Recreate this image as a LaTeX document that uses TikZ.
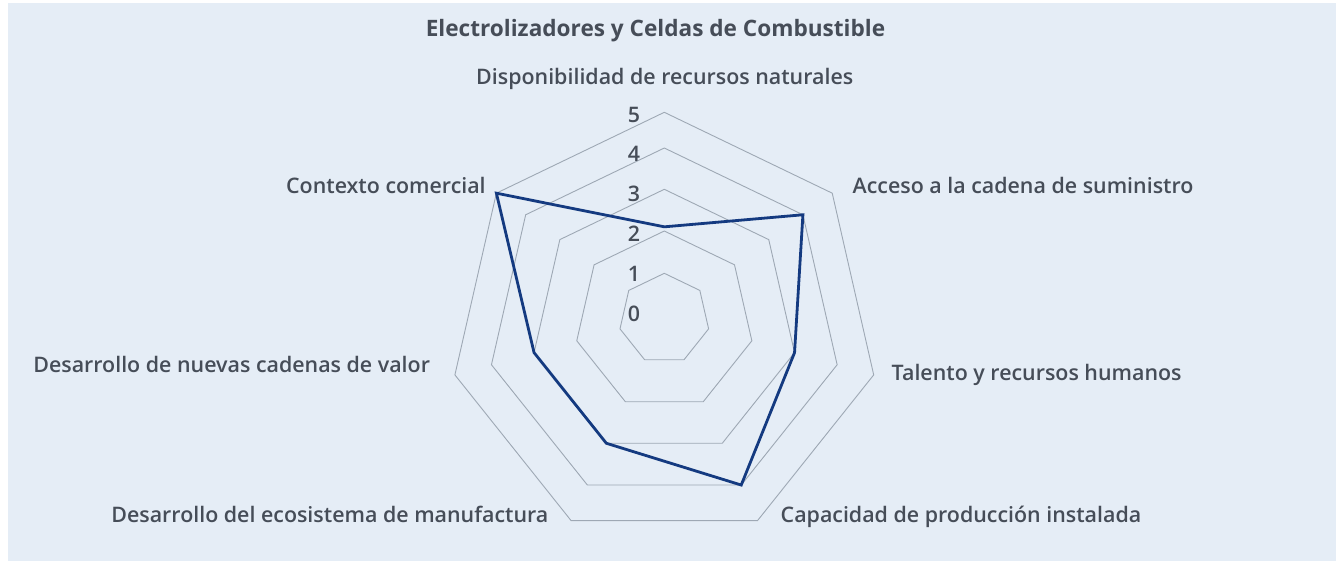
\documentclass[tikz,border=0pt]{standalone}
\usepackage{fontspec}
\setmainfont{Open Sans}
\IfFontExistsTF{Open Sans Semibold}{\newfontfamily\semifont{Open Sans Semibold}}{%
  \IfFontExistsTF{OpenSans-Semibold.otf}{\newfontfamily\semifont{OpenSans-Semibold.otf}}{%
    \IfFontExistsTF{OpenSans-SemiBold.ttf}{\newfontfamily\semifont{OpenSans-SemiBold.ttf}}{%
      \IfFontExistsTF{OpenSans-Semibold.ttf}{\newfontfamily\semifont{OpenSans-Semibold.ttf}}{%
        \newfontfamily\semifont{Open Sans}[FakeBold=2.5]}}}}
\usetikzlibrary{calc,positioning}
\definecolor{chartbg}{RGB}{229,237,246}
\definecolor{gridline}{RGB}{158,168,180}
\definecolor{seriesline}{RGB}{20,58,128}
\definecolor{labeltext}{RGB}{70,77,88}
\newcommand{\lblfont}{\semifont\fontsize{21.4}{25}\selectfont}
\newcommand{\ttlfont}{\fontsize{22.6}{26}\selectfont\bfseries}
\tikzstyle{ring}=[
  draw=gridline,
  line width=0.9pt,
  line join=miter,
]
\tikzstyle{series}=[
  draw=seriesline,
  line width=2.8pt,
  line join=miter,
]
\tikzstyle{catlabel}=[
  text=labeltext,
  font=\lblfont,
  inner sep=0pt,
  outer sep=0pt,
]
\tikzstyle{ticklabel}=[
  catlabel,
  anchor=base east,
]
\tikzstyle{charttitle}=[
  catlabel,
  font=\ttlfont,
  anchor=base,
]
\tikzset{
  x=1pt,
  y=-1pt,
}

\begin{document}
\begin{tikzpicture}
  \useasboundingbox (0,0) rectangle (1336,560);
  \fill[chartbg] (8,3) rectangle (1340,564);
  % rings: value/radius/centre y
  \foreach \v/\r/\cy in {1/45.45/318.75, 2/89.8/320.8, 3/133.6/322.9, 4/177.3/325.3, 5/214.8/327.1}{
    \foreach \k in {0,...,6}
      \coordinate (r\v-\k) at ($(664.3,\cy)+({-90+\k*360/7}:\r)$);
    \draw[ring] (r\v-0) -- (r\v-1) -- (r\v-2) -- (r\v-3) -- (r\v-4) -- (r\v-5) -- (r\v-6) -- cycle;
  }
  \foreach \v in {0,...,5}
    \node[ticklabel] (tick\v) at (640,{321-39.8*\v}) {\v};
  % series
  \coordinate (d0) at ($(r2-0)!0.1!(r3-0)$);
  \draw[series] (d0) -- (r4-1) -- (r3-2) -- (r4-3) -- (r3-4) -- (r3-5) -- (r5-6) -- cycle;
  % labels
  \node[charttitle] (title) at (655.5,36) {Electrolizadores y Celdas de Combustible};
  \node[catlabel, anchor=base] (disp) at (664.7,84.3) {Disponibilidad de recursos naturales};
  \node[catlabel, anchor=base west] (acceso) at (852.7,193.3) {Acceso a la cadena de suministro};
  \node[catlabel, anchor=base west] (talento) at (891.7,380) {Talento y recursos humanos};
  \node[catlabel, anchor=base west] (capacidad) at (780.7,522.3) {Capacidad de producción instalada};
  \node[catlabel, anchor=base east] (manuf) at (548.3,522.7) {Desarrollo del ecosistema de manufactura};
  \node[catlabel, anchor=base east] (cadenas) at (430,372.7) {Desarrollo de nuevas cadenas de valor};
  \node[catlabel, anchor=base east] (contexto) at (485.7,193.3) {Contexto comercial};
\end{tikzpicture}
\end{document}
